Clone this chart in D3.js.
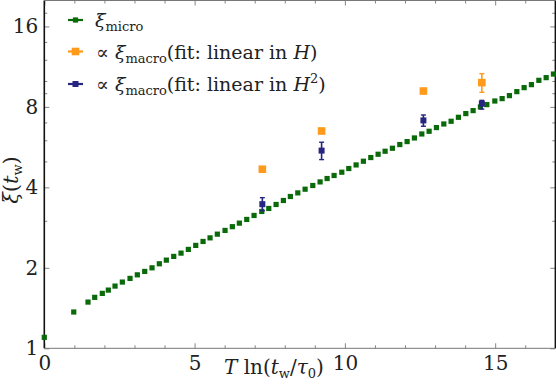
<!DOCTYPE html>
<html><head><meta charset="utf-8">
<script src="https://cdn.jsdelivr.net/npm/d3@7"></script>
<style>
html,body{margin:0;padding:0;background:#fff;}
</style></head>
<body><svg id="chart" width="556" height="387"></svg>
<script>
// ---- data ----
const microX = [0.00,0.98,1.454,1.677,1.930,2.130,2.353,2.596,2.852,3.095,3.341,3.584,3.827,4.060,4.306,4.549,4.792,5.038,5.281,5.514,5.757,6.013,6.256,6.489,6.735,6.978,7.235,7.468,7.711,7.954,8.186,8.433,8.676,8.932,9.175,9.408,9.641,9.897,10.130,10.373,10.616,10.862,11.105,11.338,11.581,11.827,12.070,12.313,12.559,12.802,13.045,13.291,13.534,13.777,14.023,14.266,14.509,14.722,14.988,15.231,15.474,15.720,15.963,16.206,16.453,16.696,16.939];
const microY = [1.099,1.367,1.489,1.551,1.605,1.651,1.709,1.769,1.826,1.883,1.939,2.000,2.071,2.137,2.207,2.270,2.344,2.426,2.510,2.589,2.673,2.760,2.851,2.939,3.034,3.140,3.250,3.335,3.452,3.572,3.697,3.814,3.937,4.064,4.192,4.316,4.430,4.557,4.704,4.852,5.009,5.171,5.320,5.459,5.602,5.783,5.934,6.121,6.335,6.484,6.694,6.905,7.067,7.314,7.551,7.748,7.992,8.158,8.415,8.590,8.815,9.123,9.443,9.690,10.056,10.292,10.615];
const macroX = [7.254,9.225,12.612,14.556];
const macroHY = [4.676,6.50,9.17,9.86];
const macroHLo = [4.62,6.44,9.10,9.07];
const macroHHi = [4.73,6.56,9.24,10.65];
const macroH2Y = [3.46,5.49,7.12,8.22];
const macroH2Lo = [3.27,5.08,6.77,7.85];
const macroH2Hi = [3.66,5.90,7.46,8.46];
const xMajor = [0,5,10,15];
const xMinor = [1,2,3,4,6,7,8,9,11,12,13,14,16];
const yMajor = [1,2,4,8,16];
const yMinor = [3,5,6,7,9,10,12,14,18];

const green = "#0a6a0a", orange = "#ff9a1a", navy = "#262680";
const FONT = "'DejaVu Serif', serif";

const svg = d3.select("#chart");
const L = 44.3, R = 555.3, T = 0.5, B = 348.3;
const x = d3.scaleLinear().domain([0,17]).range([L,R]);
const y = d3.scaleLog().base(2).domain([1,20]).range([B,T]);

const fmt = d => d;
function ax(g, gen){ g.call(gen); g.attr("font-family", null); return g; }
ax(svg.append("g").attr("transform",`translate(0,${B})`),
  d3.axisBottom(x).tickValues(xMajor).tickSizeInner(-5).tickSizeOuter(0).tickPadding(8).tickFormat(fmt));
ax(svg.append("g").attr("transform",`translate(0,${B})`),
  d3.axisBottom(x).tickValues(xMinor).tickSizeInner(-3).tickSizeOuter(0).tickFormat(""));
ax(svg.append("g").attr("transform",`translate(0,${T})`),
  d3.axisTop(x).tickValues(xMajor).tickSizeInner(-5).tickSizeOuter(0).tickFormat(""));
ax(svg.append("g").attr("transform",`translate(0,${T})`),
  d3.axisTop(x).tickValues(xMinor).tickSizeInner(-3).tickSizeOuter(0).tickFormat(""));
ax(svg.append("g").attr("transform",`translate(${L},0)`),
  d3.axisLeft(y).tickValues(yMajor).tickSizeInner(-5).tickSizeOuter(0).tickPadding(6).tickFormat(fmt));
ax(svg.append("g").attr("transform",`translate(${L},0)`),
  d3.axisLeft(y).tickValues(yMinor).tickSizeInner(-3).tickSizeOuter(0).tickFormat(""));
ax(svg.append("g").attr("transform",`translate(${R},0)`),
  d3.axisRight(y).tickValues(yMajor).tickSizeInner(-5).tickSizeOuter(0).tickFormat(""));
ax(svg.append("g").attr("transform",`translate(${R},0)`),
  d3.axisRight(y).tickValues(yMinor).tickSizeInner(-3).tickSizeOuter(0).tickFormat(""));
svg.selectAll(".domain").remove();
svg.selectAll(".tick line").attr("stroke","#666").attr("stroke-width",0.8);
svg.selectAll(".tick text").attr("fill","#222").style("font-family",FONT).style("font-size","20px");

svg.append("line").attr("x1",L).attr("x2",L).attr("y1",T).attr("y2",B).attr("stroke","#111").attr("stroke-width",1.6);
svg.append("line").attr("x1",L).attr("x2",R).attr("y1",B).attr("y2",B).attr("stroke","#777").attr("stroke-width",1);
svg.append("line").attr("x1",L).attr("x2",R).attr("y1",T).attr("y2",T).attr("stroke","#777").attr("stroke-width",1);
svg.append("line").attr("x1",R).attr("x2",R).attr("y1",T).attr("y2",B).attr("stroke","#111").attr("stroke-width",1.4);

const plot = svg.append("g");
plot.selectAll(".mic").data(microX.map((d,i)=>[d,microY[i]])).enter().append("rect")
  .attr("x",d=>x(d[0])-2.6).attr("y",d=>y(d[1])-2.6).attr("width",5.2).attr("height",5.2).attr("fill",green);

function errbars(xs, lo, hi, col, cap){
  xs.forEach((xv,i)=>{
    if (y(lo[i]) - y(hi[i]) < 6) return;
    plot.append("line").attr("x1",x(xv)).attr("x2",x(xv)).attr("y1",y(lo[i])).attr("y2",y(hi[i])).attr("stroke",col).attr("stroke-width",1.6);
    [lo[i],hi[i]].forEach(v=>plot.append("line").attr("x1",x(xv)-cap).attr("x2",x(xv)+cap).attr("y1",y(v)).attr("y2",y(v)).attr("stroke",col).attr("stroke-width",1.4));
  });
}
errbars(macroX, macroHLo, macroHHi, orange, 2.5);
plot.selectAll(".oh").data(macroX.map((d,i)=>[d,macroHY[i]])).enter().append("rect")
  .attr("x",d=>x(d[0])-3.8).attr("y",d=>y(d[1])-3.8).attr("width",7.6).attr("height",7.6).attr("fill",orange);
errbars(macroX, macroH2Lo, macroH2Hi, navy, 2.5);
plot.selectAll(".bh").data(macroX.map((d,i)=>[d,macroH2Y[i]])).enter().append("rect")
  .attr("x",d=>x(d[0])-3).attr("y",d=>y(d[1])-3).attr("width",6).attr("height",6).attr("fill",navy);

const leg = [
  {col:green, sz:5.2, yy:20, prefix:"", sub:"micro", rest:[]},
  {col:orange, sz:7.6, yy:51.5, prefix:"∝ ", sub:"macro", rest:[["(fit: linear in ",""],["H","italic"],[")",""]]},
  {col:navy, sz:6, yy:84, prefix:"∝ ", sub:"macro", rest:[["(fit: linear in ",""],["H","italic"],["2","sup"],[")","close"]]}
];
leg.forEach(l=>{
  svg.append("line").attr("x1",68).attr("x2",83).attr("y1",l.yy).attr("y2",l.yy).attr("stroke",l.col).attr("stroke-width",2.2);
  svg.append("rect").attr("x",75.5-l.sz/2).attr("y",l.yy-l.sz/2).attr("width",l.sz).attr("height",l.sz).attr("fill",l.col);
  const t = svg.append("text").attr("x", l.prefix ? 96 : 95).attr("y",l.yy+7).attr("fill","#222").style("font-family",FONT).style("font-size","19px");
  if (l.prefix) t.append("tspan").text(l.prefix);
  t.append("tspan").attr("font-style","italic").text("ξ");
  t.append("tspan").style("font-size","13px").attr("dy",4).text(l.sub);
  let first = true;
  l.rest.forEach(r=>{
    const s = t.append("tspan").text(r[0]);
    if (first){ s.attr("dy",-4); first=false; }
    if (r[1]==="italic") s.attr("font-style","italic");
    if (r[1]==="sup") s.style("font-size","13px").attr("dy",-8);
    if (r[1]==="close") s.attr("dy",8);
  });
});

const xl = svg.append("text").attr("x",224).attr("y",374).attr("fill","#222").style("font-family",FONT).style("font-size","20px");
xl.append("tspan").attr("font-style","italic").text("T");
xl.append("tspan").text(" ln(");
xl.append("tspan").attr("font-style","italic").text("t");
xl.append("tspan").style("font-size","13px").attr("dy",4).text("w");
xl.append("tspan").attr("dy",-4).text("/");
xl.append("tspan").attr("font-style","italic").text("τ");
xl.append("tspan").style("font-size","13px").attr("dy",4).text("0");
xl.append("tspan").attr("dy",-4).text(")");

const yl = svg.append("text").attr("transform","translate(18,180) rotate(-90)").attr("text-anchor","middle").attr("fill","#222").style("font-family",FONT).style("font-size","21px");
yl.append("tspan").attr("font-style","italic").text("ξ");
yl.append("tspan").text("(");
yl.append("tspan").attr("font-style","italic").text("t");
yl.append("tspan").style("font-size","13px").attr("dy",4).text("w");
yl.append("tspan").attr("dy",-4).text(")");
</script></body></html>
